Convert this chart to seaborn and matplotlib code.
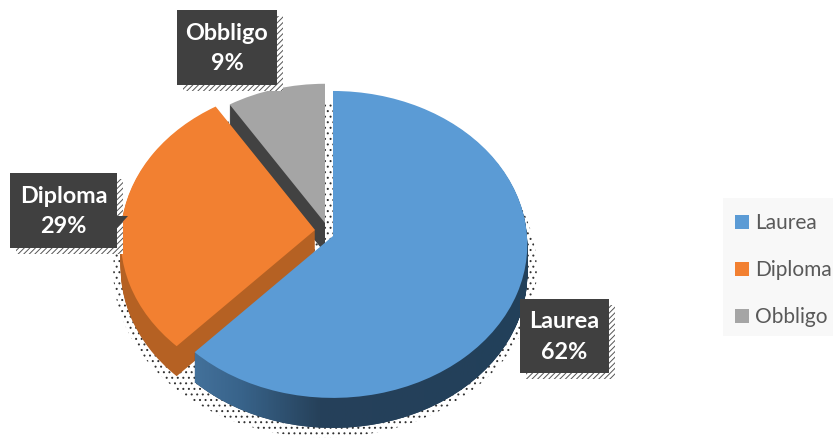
import numpy as np
import matplotlib
matplotlib.use("Agg")
import matplotlib.pyplot as plt
import seaborn as sns
from matplotlib.colors import LinearSegmentedColormap
from matplotlib.patches import Patch, Rectangle, Polygon
from matplotlib.path import Path
from matplotlib.transforms import Transform

labels = ["Laurea", "Diploma", "Obbligo"]
shares = [62, 29, 9]

top_colors = ["#5B9BD5", "#F28031", "#A5A5A5"]
side_colors = ["#26415A", "#B56123", "#424242"]
label_boxes = [(520, 299, 609, 373), (10, 173, 117, 248), (177, 10, 277, 85)]

sns.set_theme(style="white")
plt.rcParams["font.family"] = ["Lato", "DejaVu Sans"]
plt.rcParams["hatch.linewidth"] = 0.7
plt.rcParams["hatch.color"] = "#555555"


# pie seen at a tilt: unit disc -> picture pixels
class TiltedDisc(Transform):
    input_dims = 2
    output_dims = 2
    is_separable = False
    has_inverse = False

    def __init__(self, cx, cy, scale=1.0):
        super().__init__()
        self.cx, self.cy, self.scale = cx, cy, scale

    def transform_non_affine(self, values):
        u, v = np.asarray(values).T
        w = 1 + 0.055 * v
        return np.column_stack([
            self.cx + 194 * self.scale * u / w,
            self.cy - 153 * self.scale * v / w,
        ])


fig = plt.figure(figsize=(8.33, 4.43), dpi=100)
ax = fig.add_axes([0, 0, 1, 1])

# apex of each slice, the pie is pulled apart a little
apex = [(333, 236, 1.0), (315, 230, 1.0), (325, 223, 0.96)]
depth = 30


def pie_layer(colors, offset, zorders):
    wedges, _ = ax.pie(shares, colors=colors, startangle=90, counterclock=False)
    for w, (cx, cy, scale), z in zip(wedges, apex, zorders):
        w.set_transform(TiltedDisc(cx, cy + offset, scale) + ax.transData)
        w.set_zorder(z)
        w.set_linewidth(0)
    return wedges


# dithered shadow under the pie
shadow, _ = ax.pie([100], colors=["white"], startangle=90)
shadow[0].set_transform(TiltedDisc(325, 261, 1.09) + ax.transData)
shadow[0].set(hatch="...", edgecolor="#333333", linewidth=0, zorder=1)

# side walls, deepest first
blue_layers = []
for d in range(depth, 0, -1):
    layer = pie_layer(side_colors, d, [6, 4, 2])
    cx, cy, scale = apex[0]
    blue_layers.append(TiltedDisc(cx, cy + d, scale).transform_path(layer[0].get_path()))

top = pie_layer(top_colors, 0, [7, 5, 3])

ax.set_aspect("auto")
ax.axis("off")

# blue wall goes lighter towards the cut edge
wall_colors = LinearSegmentedColormap.from_list(
    "wall", [(0, "#44729C"), (0.15, "#38638A"), (0.38, "#26415A"), (1, "#22405A")]
)
im = ax.imshow(
    np.linspace(0, 1, 200).reshape(1, -1),
    cmap=wall_colors,
    extent=(190, 530, 443, 0),
    aspect="auto",
    zorder=6.5,
)
ax.set_xlim(0, 833)
ax.set_ylim(443, 0)
wall = Path.make_compound_path(*blue_layers)
im.set_clip_path(wall, ax.transData)

# data labels
for name, share, (x0, y0, x1, y1) in zip(labels, shares, label_boxes):
    ax.add_patch(Rectangle((x0 + 6, y0 + 6), x1 - x0, y1 - y0, facecolor="white",
                           edgecolor="#555555", hatch="//////", linewidth=0, zorder=8))
    ax.add_patch(Rectangle((x0, y0), x1 - x0, y1 - y0, facecolor="#404040",
                           edgecolor="none", zorder=9))
    ax.text((x0 + x1) / 2, (y0 + y1) / 2 + 1, f"{name}\n{share}%", color="white",
            fontsize=16.8, fontweight="bold", ha="center", va="center",
            linespacing=1.55, zorder=10)

ax.add_patch(Polygon([(117, 216), (128, 216), (117, 228)], facecolor="#404040",
                     edgecolor="none", zorder=9))

# legend
ax.add_patch(Rectangle((723, 198), 110, 138, facecolor="#F8F8F8", edgecolor="none", zorder=8))
handles = [Patch(facecolor=c, edgecolor="none") for c in top_colors]
ax.legend(
    handles,
    labels,
    loc="upper left",
    bbox_to_anchor=(735 / 833, 1 - 213 / 443),
    bbox_transform=fig.transFigure,
    frameon=False,
    fontsize=15,
    labelcolor="#595959",
    handlelength=0.65,
    handleheight=0.65,
    handletextpad=0.33,
    labelspacing=1.3,
    borderpad=0,
    borderaxespad=0,
).set_zorder(11)

fig.savefig("out.png", dpi=100)
